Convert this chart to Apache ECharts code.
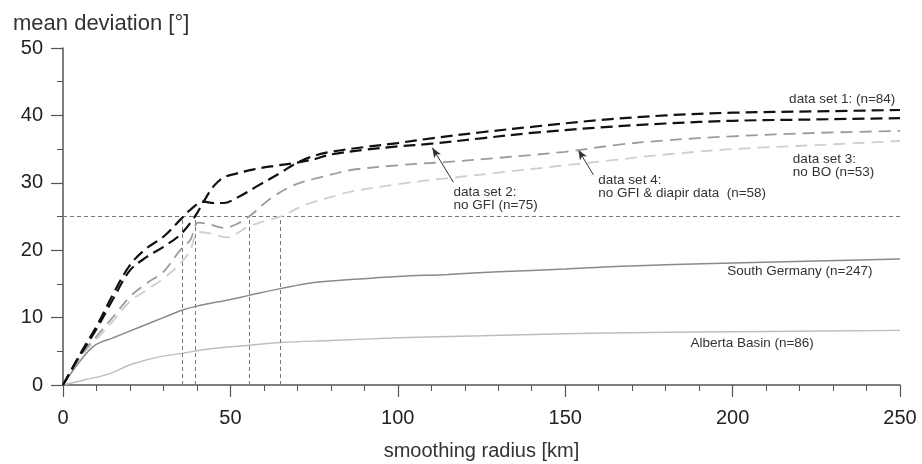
<!DOCTYPE html>
<html>
<head>
<meta charset="utf-8">
<script src="https://cdn.jsdelivr.net/npm/echarts@6/dist/echarts.min.js"></script>
<style>
html,body{margin:0;padding:0;background:#fff;}
#chart{width:922px;height:464px;}
</style>
</head>
<body>
<div id="chart"></div>
<script>
// ---- data (smoothing radius in km, mean deviation in degrees) ----
var radiusDs1 = [0,5,10,15,20,25,30,35,38,42,45,48,52,58,65,70,75,80,90,100,110,125,140,160,180,200,225,250];
var devDs1    = [0,4.5,8.7,13.5,17.8,20.3,22,24.5,26,27.2,27,27,27.8,29.5,31.5,33,34,34.6,35.3,35.9,36.6,37.5,38.3,39.3,40,40.4,40.6,40.8];

var radiusDs2 = [0,5,10,15,20,25,30,35,39.4,42,45,48,52,57,63,70,75,80,90,100,110,125,140,160,180,200,225,250];
var devDs2    = [0,4.3,8.3,12.8,17,19,20.5,22.3,25,27.2,29.5,30.8,31.4,32,32.5,33,33.5,34.2,34.9,35.4,35.8,36.6,37.4,38.2,38.8,39.2,39.4,39.6];

var radiusDs4 = [0,5,10,15,20,25,30,35,38,40.4,44,48,52,55.6,61.8,68.7,75,80,86,100,115,130,150,165,180,200,225,250];
var devDs4    = [0,4.2,7.2,10.1,13.1,15.1,16.8,20,21.5,24.1,23.8,23.3,23.9,25,27.6,29.6,30.6,31.2,31.9,32.6,33.1,33.7,34.6,35.6,36.3,36.9,37.4,37.7];

var radiusDs3 = [0,5,10,15,20,25,30,35,38,40.4,44,48.9,52,54.8,60,65,72.7,81.6,86,100,115,130,150,165,180,200,225,250];
var devDs3    = [0,4,6.8,9.5,12.4,14.1,15.8,18,20,22.7,22.5,21.9,22.5,23.4,24.3,25,26.8,28.1,28.7,29.8,30.7,31.5,32.6,33.4,34.2,35,35.6,36.2];

var radiusSG = [0,5,9.6,15,23,30,35.5,40,50,55.6,65,75,85,100,115,130,150,165,200,225,250];
var devSG    = [0,3.5,5.9,7,8.6,10,11.1,11.7,12.7,13.3,14.3,15.2,15.6,16.1,16.4,16.8,17.2,17.6,18.1,18.4,18.7];

var radiusAB = [0,6,14,20,28,35.5,43,55.6,65,80,100,125,150,175,200,250];
var devAB    = [0,0.7,1.7,3,4.1,4.7,5.3,5.9,6.3,6.6,7,7.3,7.6,7.8,7.9,8.1];

var refLevel = 25;
var crossRadii = [35.5, 39.4, 55.6, 65];

var xTicks = [0, 50, 100, 150, 200, 250];
var yTicks = [0, 10, 20, 30, 40, 50];

// annotation texts and anchor points (data coordinates)
var noteTexts  = ['data set 1: (n=84)', 'data set 2:\nno GFI (n=75)', 'data set 4:\nno GFI & diapir data  (n=58)', 'data set 3:\nno BO (n=53)', 'South Germany (n=247)', 'Alberta Basin (n=86)'];
var noteX      = [248.6, 116.6, 159.9, 218, 198.4, 187.4];
var noteY      = [42.4, 27.7, 29.45, 32.5, 16.9, 6.2];
var noteAlign  = ['right', 'left', 'left', 'left', 'left', 'left'];
// arrows: [fromX, fromY, toX, toY]
var arrowDs2 = [116.6, 30.1, 110.3, 35.2];
var arrowDs4 = [158.4, 31.2, 153.9, 34.9];

function zip(a, b){ return a.map(function(v,i){ return [v, b[i]]; }); }

var FONT = '"Liberation Sans", Arial, Helvetica, sans-serif';

var chart = echarts.init(document.getElementById('chart'), null, {renderer:'canvas'});

var refMarkLines = [[{coord:[xTicks[0], refLevel]}, {coord:[xTicks[xTicks.length-1], refLevel]}]];
crossRadii.forEach(function(r){ refMarkLines.push([{coord:[r, 0]}, {coord:[r, refLevel]}]); });

var notePoints = noteTexts.map(function(t, i){
  return {
    coord: [noteX[i], noteY[i]],
    symbol: 'circle', symbolSize: 0,
    label: {show:true, formatter: t, position:'inside', align: noteAlign[i], verticalAlign:'middle',
            fontSize: 13.5, lineHeight: 13, color:'#333', fontFamily: FONT}
  };
});

function lineSeries(name, data, color, width, dash, z){
  return {
    name: name, type:'line', data: data, smooth: 0.35, showSymbol:false, symbol:'none',
    lineStyle:{color: color, width: width, type: dash, cap:'butt'}, z: z, silent:true
  };
}

var option = {
  animation:false,
  backgroundColor:'#fff',
  title:{text:'mean deviation [°]', left:8, top:8, textStyle:{fontSize:22, fontWeight:'normal', color:'#333', fontFamily:FONT}},
  grid:{left:63, right:22, top:48, bottom:79, containLabel:false, outerBoundsMode:'none'},
  xAxis:{
    type:'value', min:0, max:250, interval:50,
    name:'smoothing radius [km]', nameLocation:'middle', nameGap:56,
    nameTextStyle:{fontSize:20, color:'#333', fontFamily:FONT},
    axisLine:{show:true, onZero:false, lineStyle:{color:'#555', width:1.5}},
    axisTick:{show:true, length:12, lineStyle:{color:'#555', width:1.2}},
    minorTick:{show:true, splitNumber:5, length:6, lineStyle:{color:'#555', width:1}},
    axisLabel:{fontSize:20, color:'#222', margin:23, fontFamily:FONT},
    splitLine:{show:false}
  },
  yAxis:{
    type:'value', min:0, max:50, interval:10,
    axisLine:{show:true, lineStyle:{color:'#555', width:1.5}},
    axisTick:{show:true, length:12, lineStyle:{color:'#555', width:1.2}},
    minorTick:{show:true, splitNumber:2, length:6, lineStyle:{color:'#555', width:1}},
    axisLabel:{fontSize:20, color:'#222', margin:20, fontFamily:FONT},
    splitLine:{show:false}
  },
  series:[
    {
      name:'ref', type:'line', data:[], silent:true, z:1,
      markLine:{silent:true, symbol:['none','none'], label:{show:false},
        lineStyle:{color:'#777', width:1, type:[4,3]}, data: refMarkLines, animation:false},
      markPoint:{silent:true, data: notePoints, animation:false}
    },
    {
      name:'arrows', type:'line', data:[], silent:true, z:2,
      markLine:{silent:true, symbol:['none','arrow'], symbolSize:[6,10], label:{show:false},
        lineStyle:{color:'#333', width:1, type:'solid'},
        data:[
          [{coord:[arrowDs2[0], arrowDs2[1]]}, {coord:[arrowDs2[2], arrowDs2[3]]}],
          [{coord:[arrowDs4[0], arrowDs4[1]]}, {coord:[arrowDs4[2], arrowDs4[3]]}]
        ], animation:false}
    },
    lineSeries('Alberta Basin', zip(radiusAB, devAB), '#bdbdbd', 1.4, 'solid', 3),
    lineSeries('South Germany', zip(radiusSG, devSG), '#8a8a8a', 1.5, 'solid', 4),
    lineSeries('data set 3', zip(radiusDs3, devDs3), '#cfcfcf', 1.8, [12,7], 5),
    lineSeries('data set 4', zip(radiusDs4, devDs4), '#9c9c9c', 1.8, [12,7], 6),
    lineSeries('data set 2', zip(radiusDs2, devDs2), '#111', 2.2, [12,6], 7),
    lineSeries('data set 1', zip(radiusDs1, devDs1), '#111', 2.2, [12,6], 8)
  ]
};
chart.setOption(option);
</script>
</body>
</html>
